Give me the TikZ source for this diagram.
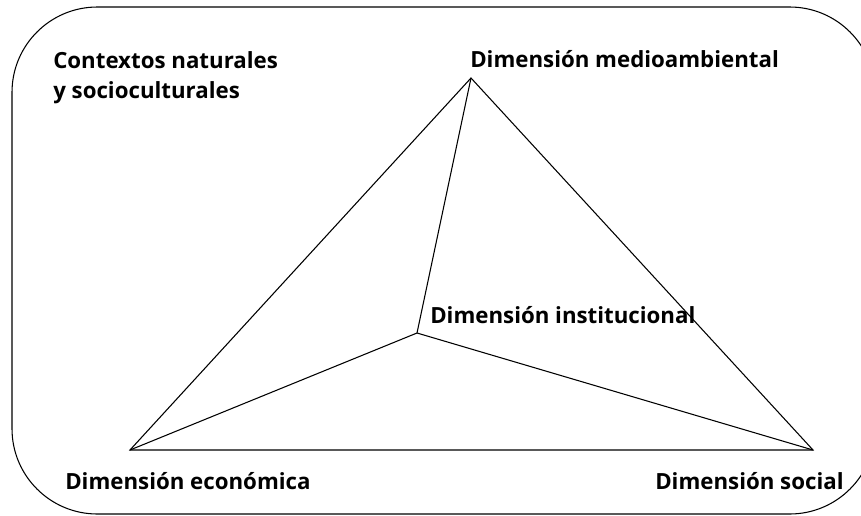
\documentclass[tikz,border=0pt]{standalone}
\usepackage{fontspec}
\setmainfont{Open Sans}
\usetikzlibrary{positioning}

\begin{document}
\begin{tikzpicture}[x=.75pt,y=-.75pt,
 lbl/.style={font=\fontsize{16.7}{22.5}\selectfont\bfseries,inner sep=0pt,
 anchor=base west,align=left},
 edge/.style={line width=.8pt,line join=miter}]
\useasboundingbox (0,0) rectangle (861,515);
\clip (0,0) rectangle (861,515);
% outer frame, cut off on the right by the page
\draw[line width=.8pt,rounded corners=64pt] (12,7) rectangle (875,514);

\coordinate (med) at (471,78);
\coordinate (eco) at (130,450);
\coordinate (soc) at (813,450);
\coordinate (inst) at (417,333);
\draw[edge] (med)--(eco)--(soc)--cycle;
\draw[edge] (inst)--(med);
\draw[edge] (inst)--(eco);
\draw[edge] (inst)--(soc);

% base of a two-line node sits on its last line
\node[lbl] (ctx) at (53,98) {Contextos naturales\\y socioculturales};
\node[lbl] (medtxt) at (470,67) {Dimensión medioambiental};
\node[lbl] (insttxt) at (430,323) {Dimensión institucional};
\node[lbl] (ecotxt) at (65,489) {Dimensión económica};
\node[lbl] (soctxt) at (655,489) {Dimensión social};
\end{tikzpicture}
\end{document}
